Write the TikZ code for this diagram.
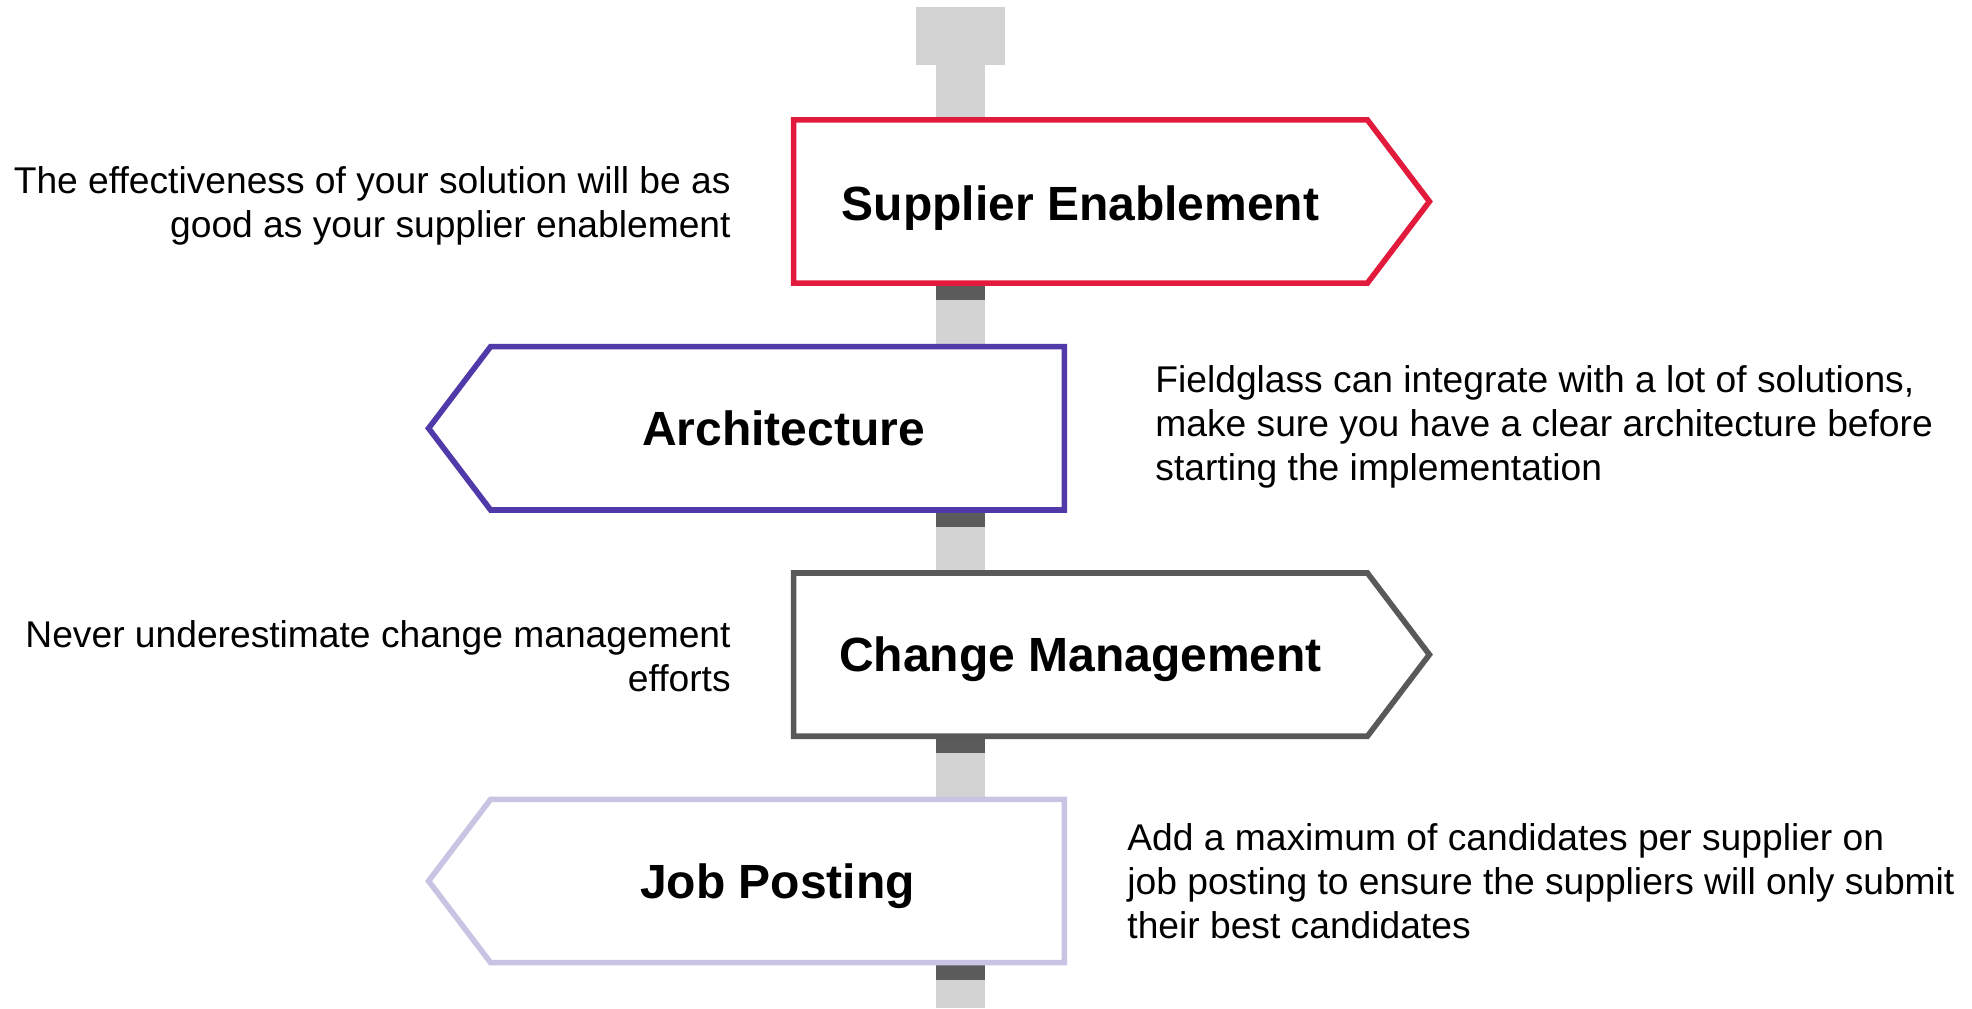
\documentclass[tikz,border=0pt]{standalone}
\usepackage{fontspec}
\setmainfont{Liberation Sans}
\usetikzlibrary{calc}

\definecolor{signred}{HTML}{E21B3C}
\definecolor{signpurple}{HTML}{5039A9}
\definecolor{signgray}{HTML}{595959}
\definecolor{signlilac}{HTML}{CAC4E4}
\definecolor{postlight}{HTML}{D3D3D3}
\definecolor{postdark}{HTML}{5B5B5B}

\begin{document}
\begin{tikzpicture}[x=0.5pt,y=-0.5pt,
  board/.style={minimum width=286.5pt,minimum height=81.25pt,inner sep=0pt,
    text height=17pt,text depth=0pt,font=\fontsize{24}{28}\selectfont\bfseries},
  outline/.style={line width=2.8pt,fill=white},
  note/.style={inner sep=0pt,font=\fontsize{18.6}{22}\selectfont}]
  \useasboundingbox (0,0) rectangle (1972,1008);

  % the post
  \fill[postlight] (916,7) rectangle (1005,65);
  \fill[postlight] (936,64) rectangle (985,1008);
  \coordinate (postleft) at (936,0);

  % the boards
  \node[board] (supplier) at (1080.5,201.5){};
  \node[board] (architecture) at (777.5,428.3){};
  \node[board] (change) at (1080.5,654.6){};
  \node[board] (jobposting) at (777.5,881){};

  \foreach \b in {supplier,architecture,change,jobposting}
    \fill[postdark] (postleft |- \b.south) rectangle ++(49,17);

  \draw[outline,draw=signred] (supplier.north west) -- (supplier.north east)
    -- ($(supplier.east)+(62,0)$) -- (supplier.south east)
    -- (supplier.south west) -- cycle;
  \draw[outline,draw=signpurple] (architecture.north east) -- (architecture.north west)
    -- ($(architecture.west)+(-62,0)$) -- (architecture.south west)
    -- (architecture.south east) -- cycle;
  \draw[outline,draw=signgray] (change.north west) -- (change.north east)
    -- ($(change.east)+(62,0)$) -- (change.south east)
    -- (change.south west) -- cycle;
  \draw[outline,draw=signlilac] (jobposting.north east) -- (jobposting.north west)
    -- ($(jobposting.west)+(-62,0)$) -- (jobposting.south west)
    -- (jobposting.south east) -- cycle;

  \node[board] at ([yshift=-1pt]supplier.center){Supplier Enablement};
  \node[board] at ([xshift=3pt]architecture.center){Architecture};
  \node[board] at (change.center){Change Management};
  \node[board] at (jobposting.center){Job Posting};

  % the notes
  \node[note,anchor=east,align=right] (supplier-note) at (731,206)
    {The effectiveness of your solution will be as\\good as your supplier enablement};
  \node[note,anchor=west,align=left] (architecture-note) at (1155,427)
    {Fieldglass can integrate with a lot of solutions,\\make sure you have a clear architecture before\\starting the implementation};
  \node[note,anchor=east,align=right] (change-note) at (731,656)
    {Never underestimate change management\\efforts};
  \node[note,anchor=west,align=left] (jobposting-note) at (1127,881)
    {Add a maximum of candidates per supplier on\\job posting to ensure the suppliers will only submit\\their best candidates};
\end{tikzpicture}
\end{document}
